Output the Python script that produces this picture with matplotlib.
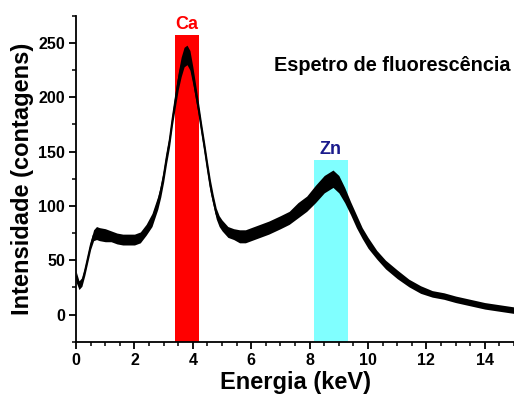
import matplotlib
matplotlib.use("Agg")
import matplotlib.pyplot as plt
from matplotlib.ticker import MultipleLocator

# Spectrum read as a centre line plus half-width of the counting noise band
energy = [0.0, 0.1, 0.2, 0.3, 0.4, 0.5, 0.6, 0.7, 0.8, 1.0, 1.2, 1.4, 1.6, 1.8,
          2.0, 2.2, 2.4, 2.6, 2.8, 2.9, 3.0, 3.1, 3.2, 3.3, 3.4, 3.5, 3.6, 3.7,
          3.8, 3.9, 4.0, 4.1, 4.2, 4.3, 4.4, 4.5, 4.6, 4.7, 4.8, 4.9, 5.0, 5.2,
          5.4, 5.6, 5.8, 6.0, 6.3, 6.6, 7.0, 7.3, 7.6, 7.9, 8.2, 8.5, 8.8, 9.0,
          9.2, 9.4, 9.6, 9.8, 10.0, 10.3, 10.6, 11.0, 11.4, 11.8, 12.2, 12.6,
          13.0, 13.5, 14.0, 14.5, 15.0]
counts = [35, 27, 30, 40, 52, 64, 73, 75, 74, 73, 72, 70, 69, 69,
          69, 71, 78, 87, 103, 114, 128, 145, 160, 180, 198, 215, 228, 237,
          239, 234, 220, 204, 188, 170, 153, 135, 118, 105, 93, 86, 82, 76,
          74, 72, 72, 74, 77, 80, 85, 89, 96, 102, 111, 120, 125, 120,
          110, 98, 86, 75, 66, 55, 46, 37, 29, 23, 19, 17,
          14, 11, 8, 6, 4]
spread = [5, 4, 4, 4, 4, 4, 5, 6, 6, 6, 5, 5, 5, 5,
          5, 5, 5, 6, 6, 6, 6, 6, 6, 6, 7, 8, 9, 9,
          9, 9, 8, 7, 6, 6, 6, 6, 6, 5, 5, 5, 5, 5,
          5, 6, 6, 6, 6, 6, 6, 6, 7, 7, 8, 8, 8, 8,
          7, 6, 6, 5, 5, 4, 4, 4, 3.5, 3.5, 3, 3,
          3, 3, 3, 3, 3]

# Element line windows: (label, start keV, end keV, height, fill, text colour)
elements = ["Ca", "Zn"]
win_start = [3.4, 8.15]
win_end = [4.2, 9.3]
win_top = [257, 142]
win_fill = ["#ff0000", "#80ffff"]
win_text = ["#ff0000", "#1a1a8c"]

plt.rcParams["font.family"] = ["Liberation Sans", "DejaVu Sans"]
plt.rcParams["font.weight"] = "bold"

fig = plt.figure(figsize=(5.14, 3.95), dpi=100)
ax = fig.add_axes([0.148, 0.135, 0.852, 0.825])

ymin, ymax = -25, 275
for name, x0, x1, top, fc, tc in zip(elements, win_start, win_end, win_top, win_fill, win_text):
    ax.fill_between([x0, x1], ymin, top, color=fc, lw=0, zorder=1)
    ax.text((x0 + x1) / 2, top + 2, name, color=tc, ha="center", va="bottom",
            fontsize=13, fontweight="bold", zorder=3)

lower = [c - s for c, s in zip(counts, spread)]
upper = [c + s for c, s in zip(counts, spread)]
ax.fill_between(energy, lower, upper, color="black", lw=0, zorder=2)
ax.plot(energy, counts, color="black", lw=1.2, zorder=2)

ax.text(0.7215, 0.849, "Espetro de fluorescência", transform=ax.transAxes,
        ha="center", va="center", fontsize=14.3, fontweight="bold")

ax.set_xlim(0, 15)
ax.set_ylim(ymin, ymax)
ax.xaxis.set_major_locator(MultipleLocator(2))
ax.xaxis.set_minor_locator(MultipleLocator(0.5))
ax.yaxis.set_major_locator(MultipleLocator(50))
ax.yaxis.set_minor_locator(MultipleLocator(25))
ax.set_yticks([0, 50, 100, 150, 200, 250])

for side in ("top", "right"):
    ax.spines[side].set_visible(False)
for side in ("left", "bottom"):
    ax.spines[side].set_linewidth(1.3)

ax.tick_params(which="major", direction="out", length=5, width=1.3, labelsize=11.5, pad=3)
ax.tick_params(which="minor", direction="out", length=3, width=1.1)
for lab in ax.get_xticklabels() + ax.get_yticklabels():
    lab.set_fontweight("bold")

ax.set_xlabel("Energia (keV)", fontsize=17, fontweight="bold", labelpad=2)
ax.set_ylabel("Intensidade (contagens)", fontsize=17, fontweight="bold", labelpad=3)

fig.savefig("out.png", dpi=100)
